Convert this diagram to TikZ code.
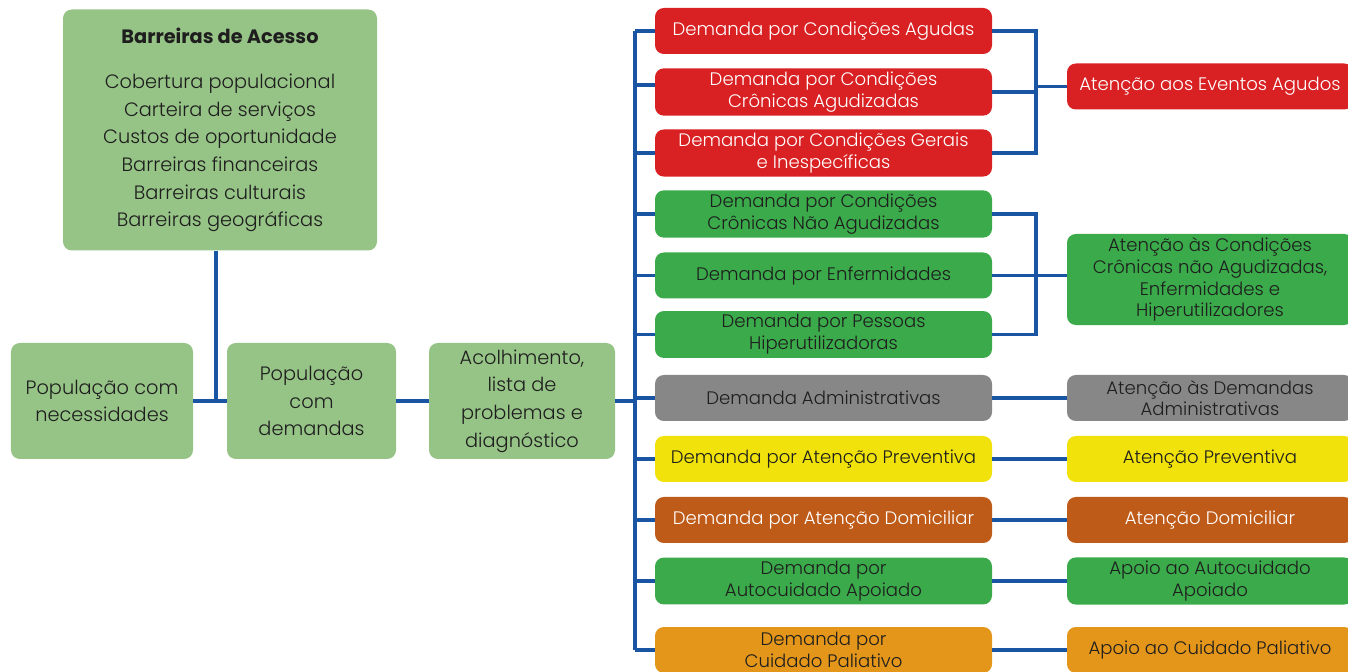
\documentclass[tikz,border=0pt]{standalone}
\usepackage{fontspec}
\IfFontExistsTF{Poppins Light}{\setmainfont{Poppins Light}}{\setmainfont{Poppins}}
\newfontfamily\headfont{Poppins}
\usetikzlibrary{positioning}

\definecolor{paleGreen}{HTML}{96C386}
\definecolor{acuteRed}{HTML}{D92123}
\definecolor{chronGreen}{HTML}{3AAA4A}
\definecolor{adminGray}{HTML}{878787}
\definecolor{prevYellow}{HTML}{F0E20A}
\definecolor{homeBrown}{HTML}{BF5B18}
\definecolor{palOrange}{HTML}{E4961A}
\definecolor{lineBlue}{HTML}{1A55A3}
\definecolor{inkDark}{HTML}{1E1E1E}

\begin{document}
\begin{tikzpicture}[
        base/.style={rectangle, rounded corners=5pt, align=center, inner sep=2pt},
        pale/.style={base, fill=paleGreen, text=inkDark, font=\fontsize{11}{15.7}\selectfont},
        dbox/.style={base, minimum width=6.74cm, minimum height=0.92cm, font=\fontsize{10.3}{12.4}\selectfont},
        abox/.style={base, minimum width=5.72cm, minimum height=0.92cm, font=\fontsize{10.3}{12.4}\selectfont},
        link/.style={draw=lineBlue, line width=2.2pt}
    ]
        \useasboundingbox (0,0) rectangle (26.96,13.42);

        % Left flow
        \node[pale, minimum width=6.28cm, minimum height=4.82cm] (barriers) at (4.40, 10.82)
            {{\headfont\bfseries Barreiras de Acesso}\\[10pt]
             Cobertura populacional\\ Carteira de serviços\\ Custos de oportunidade\\
             Barreiras financeiras\\ Barreiras culturais\\ Barreiras geográficas};
        \node[pale, minimum width=3.64cm, minimum height=2.32cm] (needs) at (2.04, 5.40) {População com\\ necessidades};
        \node[pale, minimum width=3.38cm, minimum height=2.32cm] (demands) at (6.23, 5.40) {População\\ com\\ demandas};
        \node[pale, minimum width=3.72cm, minimum height=2.32cm] (intake) at (10.44, 5.40) {Acolhimento,\\ lista de\\ problemas e\\ diagnóstico};

        % Demand column
        \node[dbox, fill=acuteRed, text=white] (dAcute) at (16.47, 12.80) {Demanda por Condições Agudas};
        \node[dbox, fill=acuteRed, text=white] (dChronAcute) at (16.47, 11.58) {Demanda por Condições\\ Crônicas Agudizadas};
        \node[dbox, fill=acuteRed, text=white] (dGeneral) at (16.47, 10.36) {Demanda por Condições Gerais\\ e Inespecíficas};
        \node[dbox, fill=chronGreen, text=inkDark] (dChron) at (16.47, 9.14) {Demanda por Condições\\ Crônicas Não Agudizadas};
        \node[dbox, fill=chronGreen, text=inkDark] (dIllness) at (16.47, 7.91) {Demanda por Enfermidades};
        \node[dbox, fill=chronGreen, text=inkDark] (dHeavy) at (16.47, 6.73) {Demanda por Pessoas\\ Hiperutilizadoras};
        \node[dbox, fill=adminGray, text=inkDark] (dAdmin) at (16.47, 5.46) {Demanda Administrativas};
        \node[dbox, fill=prevYellow, text=inkDark] (dPrev) at (16.47, 4.24) {Demanda por Atenção Preventiva};
        \node[dbox, fill=homeBrown, text=white] (dHome) at (16.47, 3.02) {Demanda por Atenção Domiciliar};
        \node[dbox, fill=chronGreen, text=inkDark] (dSelf) at (16.47, 1.80) {Demanda por\\ Autocuidado Apoiado};
        \node[dbox, fill=palOrange, text=inkDark] (dPal) at (16.47, 0.42) {Demanda por\\ Cuidado Paliativo};

        % Care column
        \node[abox, fill=acuteRed, text=white] (aAcute) at (24.20, 11.69) {Atenção aos Eventos Agudos};
        \node[abox, fill=chronGreen, text=inkDark, minimum height=1.74cm] (aChron) at (24.20, 7.83)
            {Atenção às Condições\\ Crônicas não Agudizadas,\\ Enfermidades e\\ Hiperutilizadores};
        \node[abox, fill=adminGray, text=inkDark] (aAdmin) at (24.20, 5.46) {Atenção às Demandas\\ Administrativas};
        \node[abox, fill=prevYellow, text=inkDark] (aPrev) at (24.20, 4.24) {Atenção Preventiva};
        \node[abox, fill=homeBrown, text=white] (aHome) at (24.20, 3.02) {Atenção Domiciliar};
        \node[abox, fill=chronGreen, text=inkDark] (aSelf) at (24.20, 1.80) {Apoio ao Autocuidado\\ Apoiado};
        \node[abox, fill=palOrange, text=inkDark] (aPal) at (24.20, 0.42) {Apoio ao Cuidado Paliativo};

        % Connector guides
        \coordinate (barrierDrop) at (4.32, 0);
        \coordinate (trunk) at (12.70, 0);
        \coordinate (bracket) at (20.72, 0);

        % Left connectors
        \draw[link] (needs) -- (demands);
        \draw[link] (demands) -- (intake);
        \draw[link] (barriers.south -| barrierDrop) -- (needs.east -| barrierDrop);
        \draw[link] (intake.east) -- (intake.east -| trunk);

        % Trunk and branches
        \draw[link] (dAcute.west -| trunk) -- (dPal.west -| trunk);
        \draw[link] (dAcute.west -| trunk) -- (dAcute.west);
        \draw[link] ([yshift=0.14cm]dChronAcute.west -| trunk) -- ([yshift=0.14cm]dChronAcute.west);
        \draw[link] (dGeneral.west -| trunk) -- (dGeneral.west);
        \draw[link] (dChron.west -| trunk) -- (dChron.west);
        \draw[link] (dIllness.west -| trunk) -- (dIllness.west);
        \draw[link] (dHeavy.west -| trunk) -- (dHeavy.west);
        \draw[link] (dAdmin.west -| trunk) -- (dAdmin.west);
        \draw[link] (dPrev.west -| trunk) -- (dPrev.west);
        \draw[link] (dHome.west -| trunk) -- (dHome.west);
        \draw[link] (dSelf.west -| trunk) -- (dSelf.west);
        \draw[link] (dPal.west -| trunk) -- (dPal.west);

        % Acute bracket
        \draw[link] (dAcute.east) -- (dAcute.east -| bracket) -- (dGeneral.east -| bracket) -- (dGeneral.east);
        \draw[link] (dChronAcute.east) -- (dChronAcute.east -| bracket);
        \draw[link] (aAcute.west -| bracket) -- (aAcute.west);

        % Chronic bracket
        \draw[link] (dChron.east) -- (dChron.east -| bracket) -- (dHeavy.east -| bracket) -- (dHeavy.east);
        \draw[link] (dIllness.east) -- (aChron.west |- dIllness.east);

        % One-to-one links
        \draw[link] (dAdmin) -- (aAdmin);
        \draw[link] (dPrev) -- (aPrev);
        \draw[link] (dHome) -- (aHome);
        \draw[link] (dSelf) -- (aSelf);
        \draw[link] (dPal) -- (aPal);

    \end{tikzpicture}
\end{document}
